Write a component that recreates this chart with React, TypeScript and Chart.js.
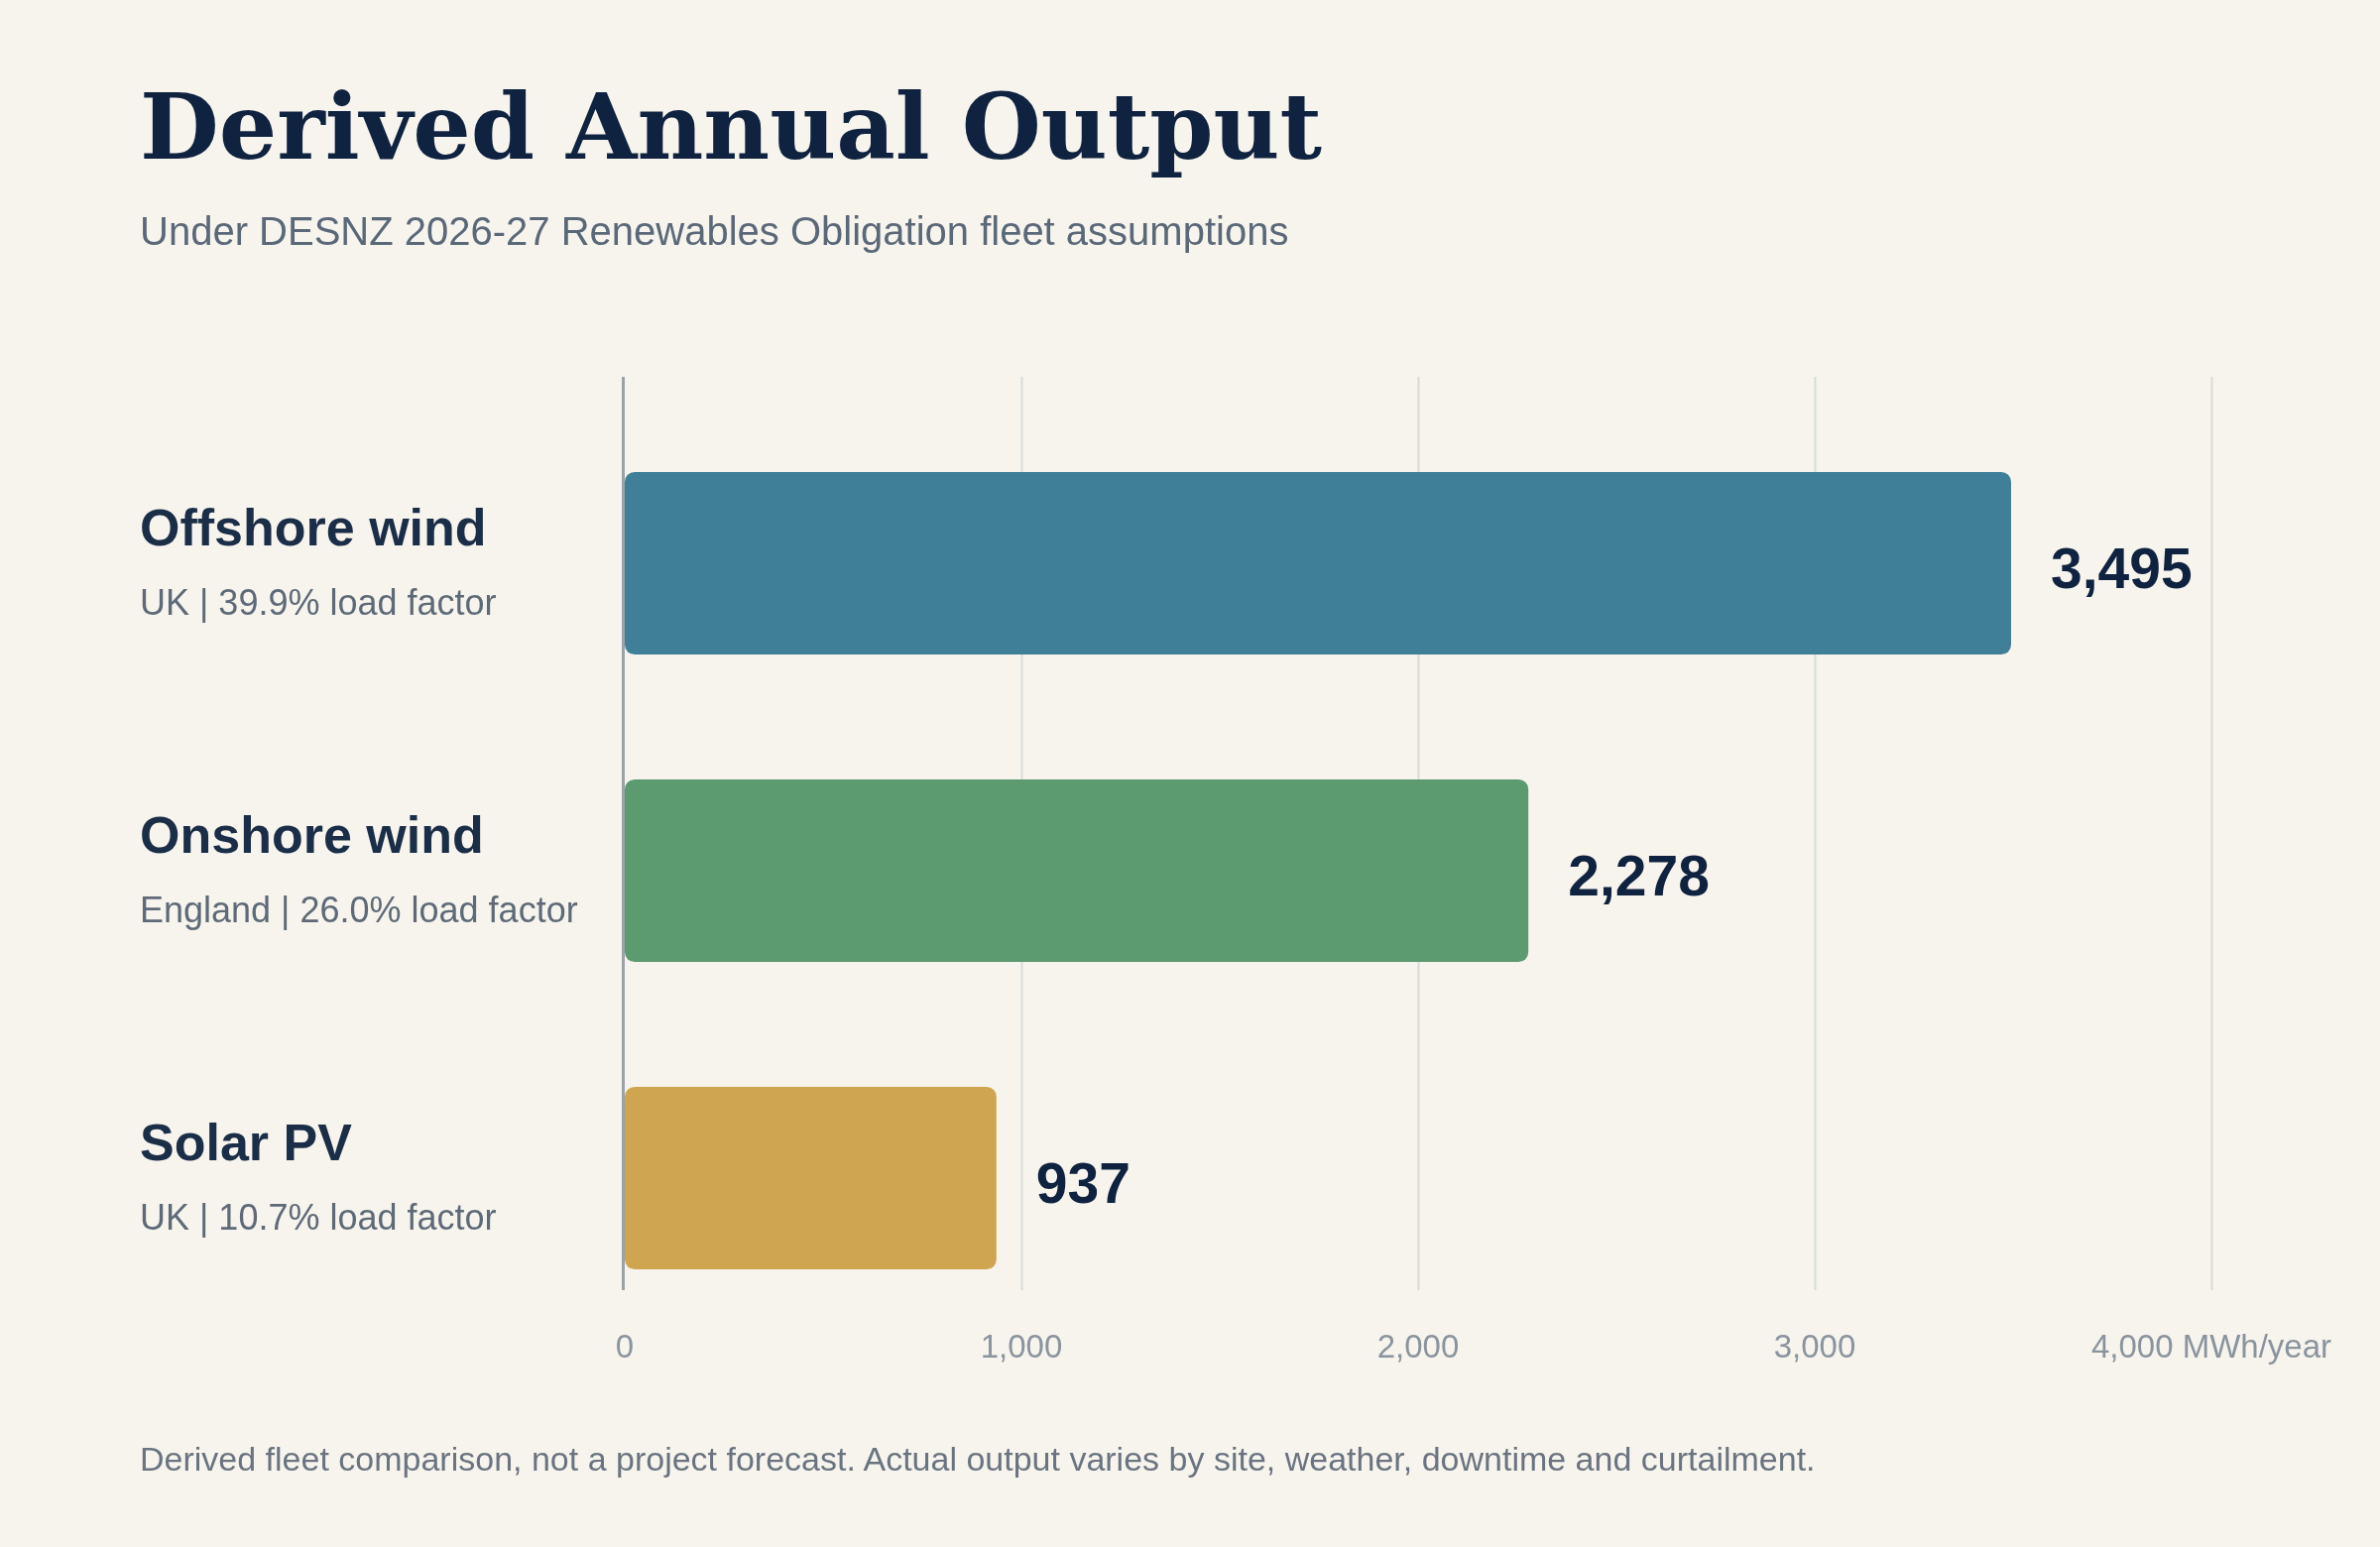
import React, { useEffect, useRef } from "react";
import { Chart, registerables } from "chart.js";

Chart.register(...registerables);

const categories = ["Offshore wind", "Onshore wind", "Solar PV"];
const categoryNotes = ["UK | 39.9% load factor", "England | 26.0% load factor", "UK | 10.7% load factor"];
const outputMWh = [3495, 2278, 937];
const barColors = ["#3F7F97", "#5C9A6F", "#CFA550"];
const xTicks = [0, 1000, 2000, 3000, 4000];
const unitLabel = "MWh/year";

const TITLE = "Derived Annual Output";
const SUBTITLE = "Under DESNZ 2026-27 Renewables Obligation fleet assumptions";
const FOOTNOTE =
  "Derived fleet comparison, not a project forecast. Actual output varies by site, weather, downtime and curtailment.";

const SANS = "'Liberation Sans', Arial, Helvetica, sans-serif";
const SERIF = "'DejaVu Serif', Georgia, serif";
const BG = "#F7F4EE";

const fmt = (v: number) => v.toLocaleString("en-US");

const overlayPlugin = {
  id: "overlay",
  beforeDatasetsDraw(chart: any) {
    const { ctx, chartArea, scales } = chart;
    const x = scales.x;
    const gTop = chartArea.top - 33;
    const gBottom = chartArea.bottom - 42;
    ctx.save();
    xTicks.forEach((v) => {
      if (v === 0) return;
      const px = Math.round(x.getPixelForValue(v)) + 0.5;
      ctx.strokeStyle = "#D7DBD8";
      ctx.lineWidth = 2;
      ctx.beginPath();
      ctx.moveTo(px, gTop);
      ctx.lineTo(px, gBottom);
      ctx.stroke();
    });
    const x0 = x.getPixelForValue(0) - 1.5;
    ctx.strokeStyle = "#9AA3A9";
    ctx.lineWidth = 3;
    ctx.beginPath();
    ctx.moveTo(x0, gTop);
    ctx.lineTo(x0, gBottom);
    ctx.stroke();
    ctx.restore();
  },
  afterDatasetsDraw(chart: any) {
    const { ctx, scales } = chart;
    const x = scales.x;
    const y = scales.y;
    ctx.save();
    categories.forEach((name, i) => {
      const cy = y.getPixelForValue(i);
      ctx.textAlign = "left";
      ctx.textBaseline = "alphabetic";
      ctx.fillStyle = "#1B2E47";
      ctx.font = `bold 52px ${SANS}`;
      ctx.fillText(name, 141, cy - 18);
      ctx.fillStyle = "#5E6A77";
      ctx.font = `36px ${SANS}`;
      ctx.fillText(categoryNotes[i], 141, cy + 52);

      const vx = x.getPixelForValue(outputMWh[i]);
      ctx.fillStyle = "#0F2340";
      ctx.font = `bold 57px ${SANS}`;
      ctx.fillText(fmt(outputMWh[i]), vx + 40, cy + 25);
    });
    ctx.restore();
  },
};

export default function App() {
  const canvasRef = useRef<HTMLCanvasElement | null>(null);

  useEffect(() => {
    document.body.style.margin = "0";
    document.body.style.background = BG;
    const canvas = canvasRef.current;
    if (!canvas) return;
    const chart = new Chart(canvas, {
      type: "bar",
      data: {
        labels: categories,
        datasets: [
          {
            data: outputMWh,
            backgroundColor: barColors,
            borderRadius: 10,
            borderSkipped: false,
            barPercentage: 0.594,
            categoryPercentage: 1,
          },
        ],
      },
      options: {
        indexAxis: "y",
        responsive: false,
        maintainAspectRatio: false,
        animation: false,
        devicePixelRatio: 1,
        layout: { padding: { left: 630, right: 170, top: 413, bottom: 157 } },
        plugins: {
          legend: { display: false },
          tooltip: { enabled: false },
        },
        scales: {
          x: {
            type: "linear",
            min: 0,
            max: 4000,
            afterBuildTicks: (s: any) => {
              s.ticks = xTicks.map((v) => ({ value: v }));
            },
            afterFit: (s: any) => {
              s.height = 60;
            },
            grid: { display: false, drawTicks: false },
            border: { display: false },
            ticks: {
              autoSkip: false,
              maxRotation: 0,
              padding: -3,
              color: "#8A949E",
              font: { size: 33, family: SANS },
              callback: (v: any) =>
                Number(v) === xTicks[xTicks.length - 1] ? `${fmt(Number(v))} ${unitLabel}` : fmt(Number(v)),
            },
          },
          y: {
            type: "category",
            display: false,
            offset: true,
          },
        },
      },
      plugins: [overlayPlugin],
    } as any);
    return () => chart.destroy();
  }, []);

  return (
    <div
      style={{
        position: "absolute",
        left: 0,
        top: 0,
        width: 2400,
        height: 1560,
        background: BG,
        overflow: "hidden",
      }}
    >
      <canvas
        ref={canvasRef}
        width={2400}
        height={1560}
        style={{ position: "absolute", left: 0, top: 0, width: 2400, height: 1560, display: "block" }}
      />
      <div
        style={{
          position: "absolute",
          left: 141,
          top: 82,
          fontFamily: SERIF,
          fontWeight: "bold",
          fontSize: 92,
          lineHeight: "92px",
          color: "#0F2340",
          whiteSpace: "nowrap",
        }}
      >
        {TITLE}
      </div>
      <div
        style={{
          position: "absolute",
          left: 141,
          top: 213,
          fontFamily: SANS,
          fontSize: 40,
          lineHeight: "40px",
          color: "#5A6878",
          whiteSpace: "nowrap",
        }}
      >
        {SUBTITLE}
      </div>
      <div
        style={{
          position: "absolute",
          left: 141,
          top: 1454,
          fontFamily: SANS,
          fontSize: 34,
          lineHeight: "34px",
          color: "#6A7480",
          whiteSpace: "nowrap",
        }}
      >
        {FOOTNOTE}
      </div>
    </div>
  );
}
